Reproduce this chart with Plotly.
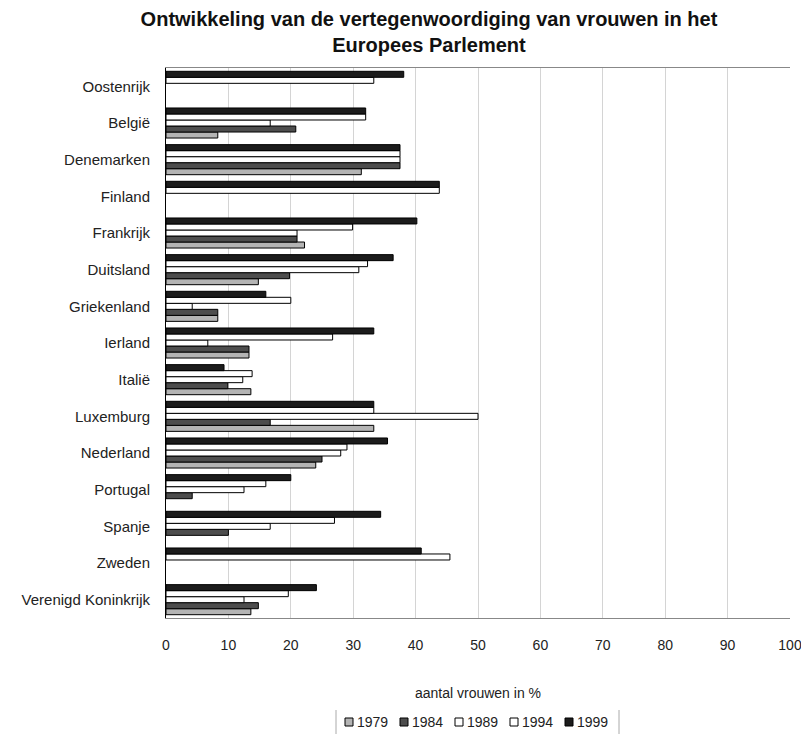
import plotly.graph_objects as go

countries = ["Oostenrijk", "België", "Denemarken", "Finland", "Frankrijk", "Duitsland",
             "Griekenland", "Ierland", "Italië", "Luxemburg", "Nederland", "Portugal",
             "Spanje", "Zweden", "Verenigd Koninkrijk"]

v1979 = [None, 8.3, 31.3, None, 22.2, 14.8, 8.3, 13.3, 13.6, 33.3, 24.0, None, None, None, 13.6]
v1984 = [None, 20.8, 37.5, None, 21.0, 19.8, 8.3, 13.3, 9.9, 16.7, 25.0, 4.2, 10.0, None, 14.8]
v1989 = [None, 16.7, 37.5, None, 21.0, 30.9, 4.2, 6.7, 12.3, 50.0, 28.0, 12.5, 16.7, None, 12.5]
v1994 = [33.3, 32.0, 37.5, 43.8, 29.9, 32.3, 20.0, 26.7, 13.8, 33.3, 29.0, 16.0, 27.0, 45.5, 19.6]
v1999 = [38.1, 32.0, 37.5, 43.8, 40.2, 36.4, 16.0, 33.3, 9.3, 33.3, 35.5, 20.0, 34.4, 40.9, 24.1]

series = [("1979", v1979, "#b4b4b4"),
          ("1984", v1984, "#4d4d4d"),
          ("1989", v1989, "#ffffff"),
          ("1994", v1994, "#ffffff"),
          ("1999", v1999, "#1c1c1c")]

OFF = 8  # page body margin
W, H = 809 - OFF, 742 - OFF
L, R, T, B = 166 - OFF, 19, 68 - OFF, 124
PW, PH = W - L - R, H - T - B

def wx(px):  # window pixel -> paper x
    return (px - OFF - L) / PW

def wy(py):  # window pixel -> paper y
    return (H - B - (py - OFF)) / PH

fig = go.Figure()
for name, vals, col in series:
    fig.add_trace(go.Bar(
        y=countries, x=vals, name=name, orientation="h",
        marker=dict(color=col, line=dict(color="#000000", width=1)),
        showlegend=False,
    ))

font = "Liberation Sans, Arial, Helvetica, sans-serif"

# compact legend (squares + labels), like the original
shapes = []
annotations = []
leg_x0, leg_pitch, leg_y = 345, 55, 722
for i, (name, vals, col) in enumerate(series):
    sx = leg_x0 + i * leg_pitch
    shapes.append(dict(type="rect", xref="paper", yref="paper",
                       x0=wx(sx), x1=wx(sx + 8),
                       y0=wy(leg_y + 4), y1=wy(leg_y - 4),
                       fillcolor=col, line=dict(color="#000", width=1)))
    annotations.append(dict(text=name, xref="paper", yref="paper",
                            x=wx(sx + 10), y=wy(leg_y),
                            xanchor="left", yanchor="middle", showarrow=False,
                            font=dict(family=font, size=14, color="#222")))
for bx in (336, 619):
    shapes.append(dict(type="line", xref="paper", yref="paper",
                       x0=wx(bx), x1=wx(bx),
                       y0=wy(734), y1=wy(710),
                       line=dict(color="#aaaaaa", width=1)))

fig.update_layout(
    width=W, height=H,
    margin=dict(l=L, r=R, t=T, b=B),
    paper_bgcolor="white", plot_bgcolor="white",
    barmode="group", bargap=0.18, bargroupgap=0,
    font=dict(family=font, size=14, color="#222"),
    title=dict(text="<b>Ontwikkeling van de vertegenwoordiging van vrouwen in het<br>Europees Parlement</b>",
               x=(429 - OFF) / W, xanchor="center", yref="container", y=1 - 18 / H, yanchor="top",
               font=dict(family=font, size=20, color="#111")),
    xaxis=dict(range=[0, 100], dtick=10, showgrid=True, gridcolor="#d4d4d4", gridwidth=1,
               zeroline=False, showline=True, linecolor="#888", mirror=True,
               ticks="", ticklabelstandoff=14, automargin=False,
               tickfont=dict(size=14, color="#222"),
               title=dict(text="aantal vrouwen in %", standoff=36,
                          font=dict(size=14, color="#222"))),
    yaxis=dict(categoryorder="array", categoryarray=countries[::-1],
               showline=True, linecolor="#000", mirror=False, showgrid=False,
               ticks="", ticklabelstandoff=12, automargin=False,
               tickfont=dict(size=15, color="#222")),
    shapes=shapes,
    annotations=annotations,
)

fig.write_html("out.html")
